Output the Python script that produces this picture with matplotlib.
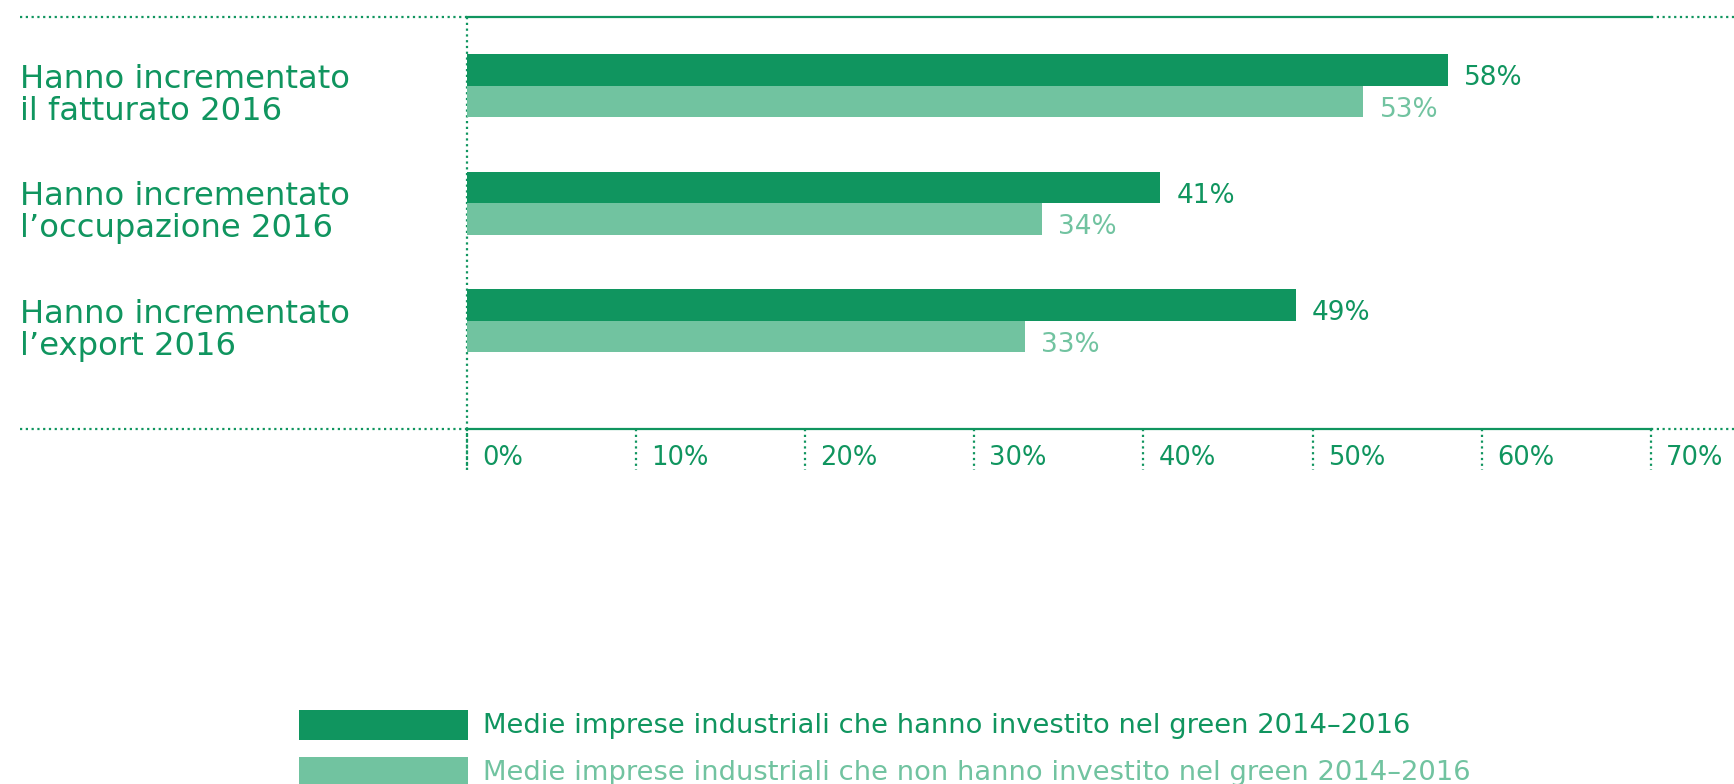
import numpy as np
import matplotlib
matplotlib.use("Agg")
import matplotlib.pyplot as plt
from matplotlib.patches import Rectangle
from matplotlib.transforms import blended_transform_factory

# --- data ---
categories = ["Hanno incrementato\nil fatturato 2016",
              "Hanno incrementato\nl\u2019occupazione 2016",
              "Hanno incrementato\nl\u2019export 2016"]
green = [58, 41, 49]
non_green = [53, 34, 33]
ticks = [0, 10, 20, 30, 40, 50, 60, 70]
series = ["Medie imprese industriali che hanno investito nel green 2014\u20132016",
          "Medie imprese industriali che non hanno investito nel green 2014\u20132016"]

DARK = "#10955f"
LIGHT = "#71c3a0"
DOT = (0, (1, 1.6))

plt.rcParams['font.family'] = ['DejaVu Sans']

W, H = 1734, 784
fig = plt.figure(figsize=(W / 100, H / 100), dpi=100)
ax_l, ax_r = 466.7 / W, 1651 / W
ax_b, ax_t = 1 - 429 / H, 1 - 16.6 / H
ax = fig.add_axes([ax_l, ax_b, ax_r - ax_l, ax_t - ax_b])

# --- bars ---
y = np.arange(len(categories))
h = 0.268
ax.barh(y - h / 2, green, height=h, color=DARK, zorder=3)
ax.barh(y + h / 2, non_green, height=h, color=LIGHT, zorder=3)
ax.set_xlim(0, 70)
ax.set_ylim(2.92, -0.59)

for i in range(len(categories)):
    ax.text(green[i] + 0.95, y[i] - h / 2 + 0.07, f"{green[i]}%", va="center",
            ha="left", fontsize=19, color=DARK)
    ax.text(non_green[i] + 0.95, y[i] + h / 2 + 0.07, f"{non_green[i]}%", va="center",
            ha="left", fontsize=19, color=LIGHT)

# --- category labels on the left ---
fig_data = blended_transform_factory(fig.transFigure, ax.transData)
for i, cat in enumerate(categories):
    ax.text(20 / W, y[i] + 0.08, cat, transform=fig_data, ha="left", va="center",
            fontsize=23.2, color=DARK, linespacing=1.05)

# --- frame: solid top/bottom, dotted extensions and ticks ---
ax.tick_params(left=False, bottom=False, labelleft=False, labelbottom=False)
for s in ["left", "right"]:
    ax.spines[s].set_visible(False)
for s in ["top", "bottom"]:
    ax.spines[s].set_color(DARK)
    ax.spines[s].set_linewidth(1.6)

fig_axes = blended_transform_factory(fig.transFigure, ax.transAxes)
for yy in [0, 1]:
    ax.plot([20 / W, ax_l], [yy, yy], transform=fig_axes, clip_on=False,
            color=DARK, lw=1.6, ls=DOT)
    ax.plot([ax_r, 1], [yy, yy], transform=fig_axes, clip_on=False,
            color=DARK, lw=1.6, ls=DOT)

data_axes = blended_transform_factory(ax.transData, ax.transAxes)
tick_low = -(470 - 429) / (429 - 16.6)
ax.plot([0, 0], [1, tick_low], transform=data_axes, clip_on=False,
        color=DARK, lw=1.6, ls=DOT, zorder=1)
for t in ticks:
    ax.plot([t, t], [0, tick_low], transform=data_axes, clip_on=False,
            color=DARK, lw=1.6, ls=DOT)
    ax.text(t + 0.9, -0.071, f"{t}%", transform=data_axes, ha="left", va="center",
            fontsize=18.5, color=DARK)

# --- legend ---
for k, (lab, col) in enumerate(zip(series, [DARK, LIGHT])):
    top = 710 + k * 46.5
    fig.add_artist(Rectangle((299 / W, 1 - (top + 30) / H), 169 / W, 30 / H,
                             transform=fig.transFigure, color=col, lw=0))
    fig.text(483 / W, 1 - (top + 16) / H, lab, ha="left", va="center",
             fontsize=19.7, color=col)

fig.savefig("out.png", dpi=100)
